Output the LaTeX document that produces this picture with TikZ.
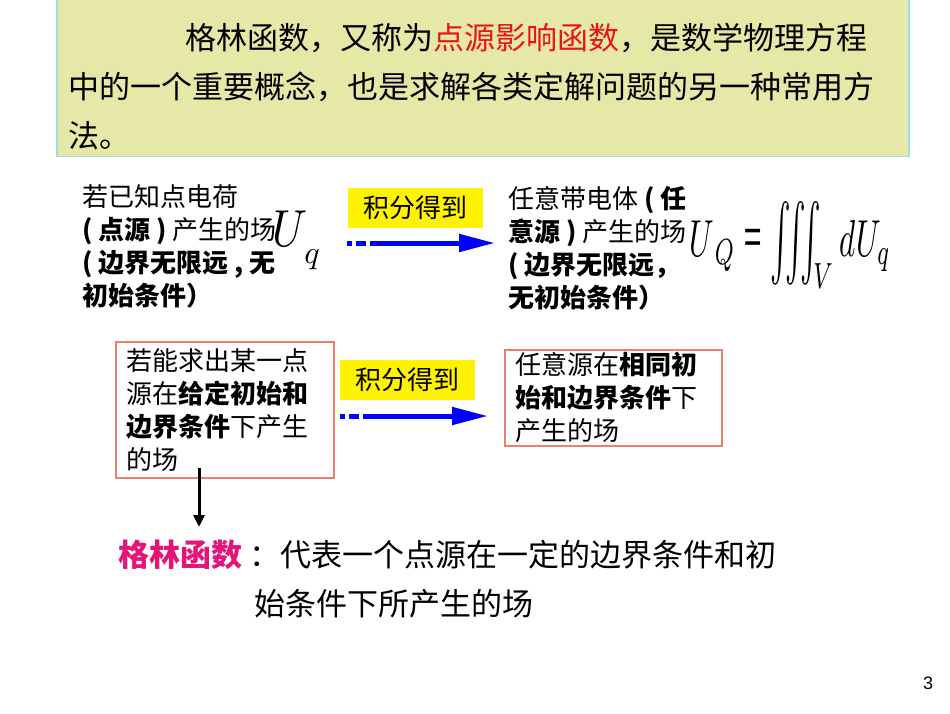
\documentclass[tikz,border=0pt]{standalone}
\usepackage{amsmath,amssymb}
\usepackage{graphicx}
\usepackage{fontspec}
\setmainfont{Noto Sans CJK SC}
\newfontfamily\numfont{Liberation Sans}
\usetikzlibrary{arrows.meta}

\definecolor{introfill}{RGB}{230,232,168}
\definecolor{introline}{RGB}{150,225,235}
\definecolor{hotred}{RGB}{235,20,20}
\definecolor{greenfn}{RGB}{230,20,120}
\definecolor{salmonline}{RGB}{236,130,110}

\tikzset{
  big/.style={font=\fontsize{31}{49}\selectfont},
  mid/.style={font=\fontsize{26}{33}\selectfont},
  txt/.style={inner sep=0pt, align=left, anchor=base west},
  tag/.style={fill=yellow, mid, inner sep=0pt, minimum width=135pt, minimum height=40pt},
  srcbox/.style={draw=salmonline, line width=1.6pt, mid, inner xsep=11pt, inner ysep=0pt, align=left, anchor=north west},
  bluearrow/.style={blue, line width=5pt, dash pattern=on 5pt off 4pt on 10pt off 4pt on 400pt,
    -{Triangle[length=36pt,width=17pt]}}
}

\begin{document}
\begin{tikzpicture}[x=1pt,y=-1pt]
    \useasboundingbox (0,0) rectangle (950,713);
    % intro box (base of a text node = its last line)
    \node[draw=introline, fill=introfill, line width=1.5pt, minimum width=852pt, minimum height=175pt,
      anchor=south west, inner sep=0pt] (intro) at (56,157) {};
    \node[txt, big] (introtext) at (68,147) {\hspace*{117pt}格林函数，又称为\textcolor{hotred}{点源影响函数}，是数学物理方程\\
      中的一个重要概念，也是求解各类定解问题的另一种常用方\\法。};

    % first row: point charge -> any charged body
    \node[txt, mid] (pointsrc) at (82,305) {若已知点电荷\\{\bfseries ( 点源 )} 产生的场\\{\bfseries ( 边界无限远 , 无}\\{\bfseries 初始条件）}};
    \node (Ubig) at (290,229) {\scalebox{0.85}[1]{\scalebox{5.2}{$U$}}};
    \node (qsub) at (312,260) {\scalebox{3.2}{$q$}};
    \node[tag] (integ1) at (415,208) {积分得到};
    \coordinate (a1from) at (347,243);
    \coordinate (a1to) at (495,243);
    \draw[bluearrow] (a1from) -- (a1to);
    \node[txt, mid] (anysrc) at (508,307) {任意带电体 {\bfseries ( 任}\\{\bfseries 意源 )} 产生的场\\{\bfseries ( 边界无限远，}\\{\bfseries 无初始条件）}};
    \node (sumfield) at (790,245) {\scalebox{3.1}[5.2]{$U_{\,Q}\mathrel{\textnormal{=}}
      \mathop{\vcenter{\hbox{\scalebox{1}[1.45]{$\iiint$}}}}\nolimits_{\!\!V} dU_{q}$}};

    % second row: given conditions
    \node[srcbox, text width=196pt, minimum height=136pt] (givenbox) at (115,341) {若能求出某一点\\源在\textbf{给定初始和}\\\textbf{边界条件}下产生\\的场};
    \node[tag] (integ2) at (407,380) {积分得到};
    \coordinate (a2from) at (340,416);
    \coordinate (a2to) at (488,416);
    \draw[bluearrow] (a2from) -- (a2to);
    \node[srcbox, text width=195pt, minimum height=96pt] (samebox) at (504,349) {任意源在\textbf{相同初}\\\textbf{始和边界条件}下\\产生的场};

    % down to the definition
    \coordinate (dfrom) at (199,468);
    \coordinate (dto) at (199,527);
    \draw[line width=3pt, -{Triangle[length=12pt,width=11pt]}] (dfrom) -- (dto);
    \node[txt, big] (greenfn) at (118,615) {\textcolor{greenfn}{\bfseries 格林函数} ：代表一个点源在一定的边界条件和初\\
      \hspace*{136pt}始条件下所产生的场};

    \node (pgnum) at (928,683) {\numfont\fontsize{18}{18}\selectfont 3};
\end{tikzpicture}
\end{document}
